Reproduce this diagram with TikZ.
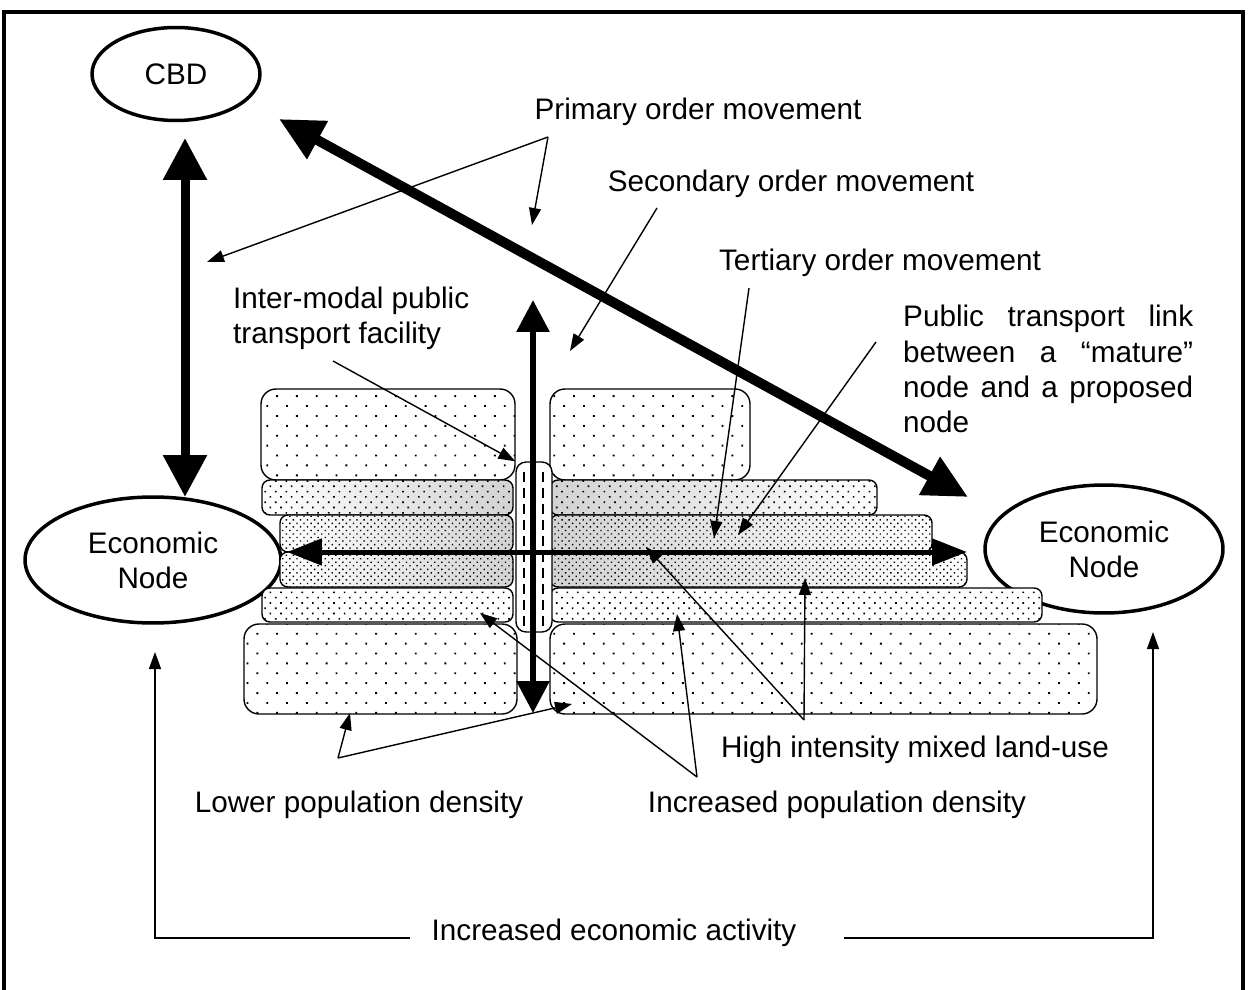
\documentclass[tikz,border=0pt]{standalone}
\usepackage{fontspec}
\setmainfont{Liberation Sans}
\usetikzlibrary{arrows.meta,patterns.meta,shapes.geometric}
\begin{document}
\begin{tikzpicture}[>={Triangle[length=0.34cm,width=0.24cm]},x=0.02cm,y=-0.02cm,
	every node/.style={font=\fontsize{16.9}{20}\selectfont},
	nut/.style={draw,ellipse,line width=0.07cm,inner sep=0pt},
	mong/.style={line width=0.028cm},
	vien/.style={line width=0.028cm,preaction={fill=white}},
	thua/.style={pattern={Dots[distance=0.28cm,angle=45,radius=0.75pt]},rounded corners=0.3cm},
	vua/.style={pattern={Dots[distance=0.15cm,angle=45,radius=0.65pt]},rounded corners=0.16cm},
	day/.style={pattern={Dots[distance=0.1cm,angle=45,radius=0.55pt]},rounded corners=0.16cm},
	xamtrai/.style={preaction={left color=white,right color=gray!35}},
	xamphai/.style={preaction={left color=gray!35,right color=white}},
	tram/.style={draw,rectangle,line width=0.028cm,fill=white,rounded corners=0.2cm,minimum width=0.72cm,minimum height=3.4cm,inner sep=0pt},
	gach/.style={line width=0.04cm,dash pattern=on 0.2cm off 0.12cm}]
	\useasboundingbox (0,0) rectangle (1248,990);
	%Khung ngoai
	\draw[line width=0.07cm] (4,995) -- (4,12) -- (1243,12) -- (1243,995);
	%Nut
	\node[nut,minimum width=3.36cm,minimum height=1.86cm] (cbd) at (176,74) {CBD};
	\node[nut,minimum width=5.12cm,minimum height=2.52cm,align=center] (ktt) at (153,560) {Economic\\Node};
	\node[nut,minimum width=4.76cm,minimum height=2.56cm,align=center] (ktp) at (1104,549) {Economic\\Node};
	%Khoi nha
	\draw[vien,thua] (261,389) rectangle (515,480);
	\draw[vien,thua] (550,389) rectangle (750,480);
	\draw[vien,xamtrai,vua] (262,480) rectangle (513,515);
	\draw[vien,xamphai,vua] (550,480) rectangle (877,515);
	\draw[vien,xamtrai,day] (280,515) rectangle (513,552);
	\draw[vien,xamphai,day] (550,515) rectangle (932,552);
	\draw[vien,xamtrai,day] (280,552) rectangle (513,587);
	\draw[vien,xamphai,day] (550,552) rectangle (967,587);
	\draw[vien,vua] (262,588) rectangle (513,622);
	\draw[vien,vua] (550,588) rectangle (1042,622);
	\draw[vien,thua] (244,624) rectangle (517,714);
	\draw[vien,thua] (550,624) rectangle (1097,714);
	%Tram
	\node[tram] (tram) at (534,547) {};
	\draw[gach] (524,472) -- (524,628);
	\draw[gach] (543,472) -- (543,628);
	%Mui ten lon
	\coordinate (a1) at (185,138);
	\coordinate (a2) at (185,497);
	\draw[line width=0.18cm,>={Triangle[length=0.84cm,width=0.84cm]},<->] (a1) -- (a2);
	\coordinate (b1) at (279,119);
	\coordinate (b2) at (968,497);
	\draw[line width=0.2cm,>={Triangle[length=0.88cm,width=0.82cm]},<->] (b1) -- (b2);
	\coordinate (c1) at (533,300);
	\coordinate (c2) at (533,713);
	\draw[line width=0.12cm,>={Triangle[length=0.64cm,width=0.64cm]},<->] (c1) -- (c2);
	\coordinate (d1) at (287,552);
	\coordinate (d2) at (967,552);
	\draw[line width=0.1cm,>={Triangle[length=0.7cm,width=0.52cm]},<->] (d1) -- (d2);
	%Chu thich
	\node (cap1) at (698,112) {Primary order movement};
	\node (cap2) at (791,184) {Secondary order movement};
	\node (cap3) at (880,263) {Tertiary order movement};
	\node[align=left,anchor=west] (trung) at (227,318) {Inter-modal public\\transport facility};
	\node[align=left,anchor=west] (lk) at (897,369) {\makebox[5.8cm][s]{Public transport link}\\\makebox[5.8cm][s]{between a ``mature''}\\\makebox[5.8cm][s]{node and a proposed}\\node};
	\node (cao) at (915,750) {High intensity mixed land-use};
	\node (thap) at (359,805) {Lower population density};
	\node (tang) at (837,805) {Increased population density};
	\node (kt) at (614,933) {Increased economic activity};
	%Mui ten nho
	\coordinate (p0) at (548,137);
	\coordinate (p1) at (207,262);
	\coordinate (p2) at (532,225);
	\draw[mong,->] (p0) -- (p1);
	\draw[mong,->] (p0) -- (p2);
	\coordinate (s0) at (657,208);
	\coordinate (s1) at (570,351);
	\draw[mong,->] (s0) -- (s1);
	\coordinate (t0) at (749,288);
	\coordinate (t1) at (714,538);
	\draw[mong,->] (t0) -- (t1);
	\coordinate (l0) at (876,342);
	\coordinate (l1) at (738,535);
	\draw[mong,->] (l0) -- (l1);
	\coordinate (i0) at (333,361);
	\draw[mong,->] (i0) -- (tram.north west);
	\coordinate (h0) at (804,720);
	\coordinate (h1) at (646,547);
	\coordinate (h2) at (805,578);
	\draw[mong,->] (h0) -- (h1);
	\draw[mong,->] (h0) -- (h2);
	\coordinate (g0) at (697,777);
	\coordinate (g1) at (480,613);
	\coordinate (g2) at (677,614);
	\draw[mong,->] (g0) -- (g1);
	\draw[mong,->] (g0) -- (g2);
	\coordinate (f0) at (338,758);
	\coordinate (f1) at (350,713);
	\coordinate (f2) at (572,704);
	\draw[mong,->] (f0) -- (f1);
	\draw[mong,->] (f0) -- (f2);
	%Hoat dong kinh te
	\coordinate (k1) at (410,938);
	\coordinate (k2) at (844,938);
	\draw[mong,->] (k1) -| (155,652);
	\draw[mong,->] (k2) -| (1153,632);
\end{tikzpicture}
\end{document}
